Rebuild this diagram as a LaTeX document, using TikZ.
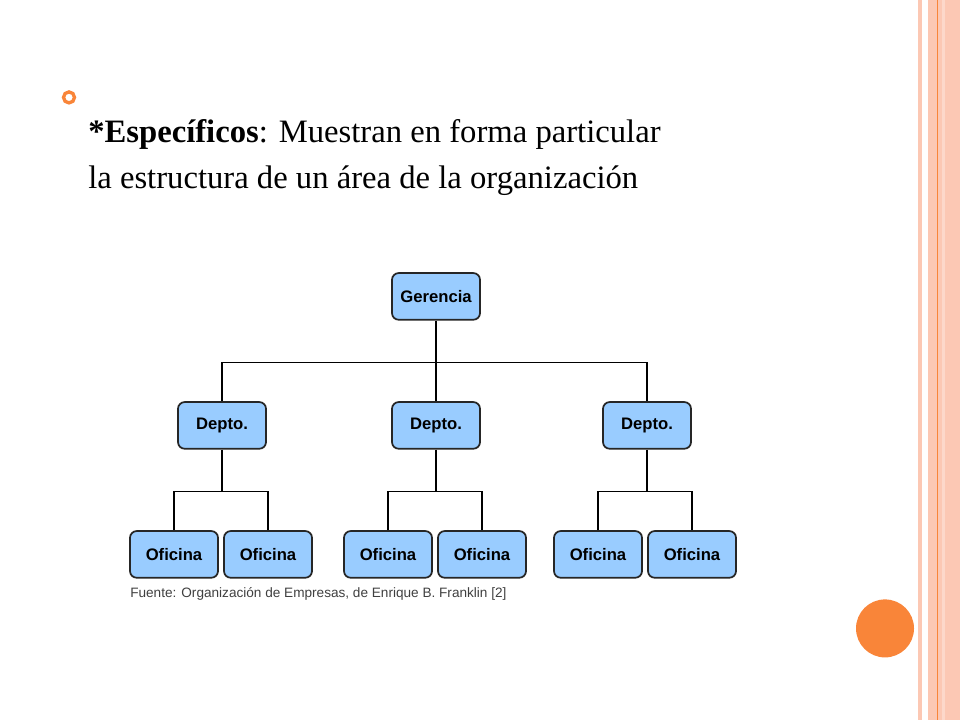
\documentclass[tikz,border=0pt]{standalone}
\usepackage{fontspec}
\setmainfont{Liberation Serif}
\newfontfamily\arialf{Liberation Sans}
\begin{document}
\begin{tikzpicture}[x=0.75pt,y=-0.75pt,
  box/.style={draw=black!85,line width=1.3pt,rounded corners=5pt,fill=bluebox,minimum width=66pt,minimum height=35pt,font=\arialf\bfseries\fontsize{12.5}{14}\selectfont},
  ln/.style={line width=1pt}]
\definecolor{peach}{RGB}{252,200,180}
\definecolor{orng}{RGB}{249,133,57}
\definecolor{bluebox}{RGB}{153,204,255}
\fill[white] (0,0) rectangle (960,720);
\fill[peach] (918,0) rectangle (922,720);
\fill[peach] (928,0) rectangle (960,720);
\draw[orng,line width=0.6pt] (937,0) -- (937,720);
\fill[peach!70!white] (942,0) rectangle (945,720);
\draw[orng,line width=2.5pt] (69,97) circle (5.5);
\fill[orng] (885,628) circle (29);
\node[anchor=north west,align=left,font=\fontsize{24.5}{34}\selectfont,inner sep=0] (t) at (88,119) {\textbf{*Específicos}: Muestran en forma particular\\la estructura de un área de la organización};
\node[box] (g) at (436,296) {Gerencia};
\node[box] (d1) at (222,425) {Depto.};
\node[box] (d2) at (436,425) {Depto.};
\node[box] (d3) at (647,425) {Depto.};
\foreach \n/\x in {o1/174,o2/268,o3/388,o4/482,o5/598,o6/692}
  \node[box] (\n) at (\x,554) {Oficina};
\coordinate (b) at (436,362);
\draw[ln] (g.south) -- (b);
\draw[ln] (d1.north) |- (b) -| (d3.north);
\draw[ln] (b) -- (d2.north);
\foreach \d/\a/\c/\x in {d1/o1/o2/222,d2/o3/o4/436,d3/o5/o6/647}{
  \coordinate (m\d) at (\x,491);
  \draw[ln] (\d.south) -- (m\d);
  \draw[ln] (\a.north) |- (m\d) -| (\c.north);}
\node[anchor=west,font=\arialf\fontsize{10.2}{12}\selectfont,text=black!75,inner sep=0] (f) at (130,593) {Fuente: Organización de Empresas, de Enrique B. Franklin [2]};
\end{tikzpicture}
\end{document}
